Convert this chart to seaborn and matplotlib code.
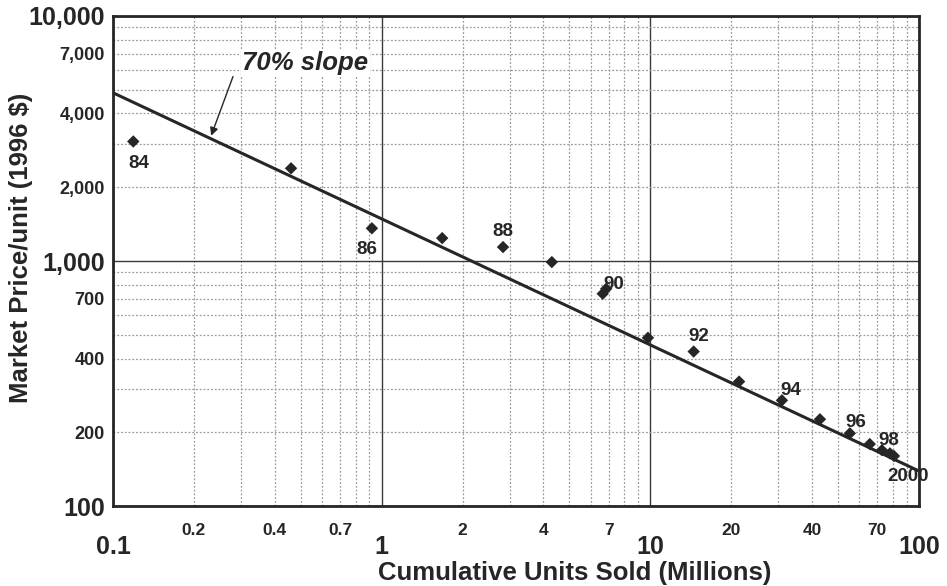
import numpy as np
import pandas as pd
import seaborn as sns
import matplotlib.pyplot as plt
from matplotlib.ticker import FixedLocator, FuncFormatter

# data (cumulative units in millions, price in 1996 $)
years = ["84", "85", "86", "87", "88", "89", "90", "90b", "91", "92", "93", "94",
         "95", "96", "97", "98", "99", "2000"]
units = [0.119, 0.46, 0.92, 1.68, 2.83, 4.30, 6.65, 6.85, 9.8, 14.5, 21.4, 30.9,
         42.8, 55.3, 65.6, 72.8, 78.0, 80.7]
price = [3075, 2390, 1360, 1240, 1140, 990, 735, 770, 486, 427, 322, 270,
         226, 198, 179, 169, 164, 160]

# 70% learning curve reference
curve_start_units = 0.1
curve_start_price = 4860
progress_ratio = 0.70
curve_units = [0.1, 100]

# which points get a year label and where (offset in points)
label_offsets = {
    "84": (4, -16), "86": (-4, -15), "88": (0, 11), "90": (8, 7),
    "92": (4, 11), "94": (6, 7), "96": (4, 8), "98": (5, 7), "2000": (10, -15),
}

x_major = [0.1, 1, 10, 100]
x_minor_labels = [0.2, 0.4, 0.7, 2, 4, 7, 20, 40, 70]
y_major = [100, 1000, 10000]
y_minor_labels = [200, 400, 700, 2000, 4000, 7000]

df = pd.DataFrame({"year": years, "units": units, "price": price})
b = np.log2(progress_ratio)
curve = pd.DataFrame({"units": curve_units})
curve["price"] = curve_start_price * (curve["units"] / curve_start_units) ** b

sns.set_style("white")
plt.rcParams["font.family"] = ["Liberation Sans", "DejaVu Sans"]
plt.rcParams["font.weight"] = "bold"

fig = plt.figure(figsize=(9.47, 5.86), dpi=100)
ax = fig.add_axes([0.1193, 0.1365, 0.8511, 0.8362])

ink = "#262626"
sns.lineplot(data=curve, x="units", y="price", color=ink, lw=2.2, ax=ax)
sns.scatterplot(data=df, x="units", y="price", marker="D", color=ink, s=40,
                edgecolor="none", ax=ax, zorder=5)

ax.set_xscale("log")
ax.set_yscale("log")
ax.set_xlim(0.1, 100)
ax.set_ylim(100, 10000)

# grids
minor_x = [m * d for d in [0.1, 1, 10] for m in range(2, 10)]
minor_y = [m * d for d in [100, 1000] for m in range(2, 10)]
ax.xaxis.set_major_locator(FixedLocator(x_major))
ax.xaxis.set_minor_locator(FixedLocator(minor_x))
ax.yaxis.set_major_locator(FixedLocator(y_major))
ax.yaxis.set_minor_locator(FixedLocator(minor_y))

def fmt_num(v):
    if v < 1:
        return f"{v:.1f}"
    return f"{v:,.0f}"

ax.xaxis.set_major_formatter(FuncFormatter(lambda v, p: fmt_num(v)))
ax.yaxis.set_major_formatter(FuncFormatter(lambda v, p: fmt_num(v)))
ax.xaxis.set_minor_formatter(FuncFormatter(
    lambda v, p: fmt_num(v) if any(np.isclose(v, t) for t in x_minor_labels) else ""))
ax.yaxis.set_minor_formatter(FuncFormatter(
    lambda v, p: fmt_num(v) if any(np.isclose(v, t) for t in y_minor_labels) else ""))

ax.tick_params(axis="x", which="major", length=0, pad=21, labelsize=18, colors=ink)
ax.tick_params(axis="x", which="minor", length=0, pad=12, labelsize=12.5, colors=ink)
ax.tick_params(axis="y", which="major", length=0, pad=6, labelsize=18, colors=ink)
ax.tick_params(axis="y", which="minor", length=0, pad=6, labelsize=13, colors=ink)

ax.grid(True, which="major", color="#3a3a3a", lw=1.0, ls="-")
ax.grid(True, which="minor", color="#9a9a9a", lw=0.9, ls=(0, (1.5, 1.5)))
ax.set_axisbelow(True)
for s in ax.spines.values():
    s.set_color(ink)
    s.set_linewidth(2)

ax.set_xlabel("Cumulative Units Sold (Millions)", fontsize=18.5, fontweight="bold",
              color=ink)
ax.xaxis.set_label_coords(0.573, -0.112)
ax.set_ylabel("Market Price/unit (1996 $)", fontsize=18.5, fontweight="bold",
              color=ink)
ax.yaxis.set_label_coords(-0.099, 0.527)

for _, r in df.iterrows():
    if r["year"] in label_offsets:
        ax.annotate(r["year"], (r["units"], r["price"]), xytext=label_offsets[r["year"]],
                    textcoords="offset points", ha="center", va="center",
                    fontsize=13.5, fontweight="bold", color=ink, zorder=6)

# 70% slope callout
head_x = 0.23
head_y = curve_start_price * (head_x / curve_start_units) ** b
ax.annotate("", xy=(head_x, head_y), xytext=(0.282, 5800),
            arrowprops=dict(arrowstyle="-|>", color=ink, lw=1, mutation_scale=12))
ax.text(0.52, 6400, "70% slope", ha="center", va="center", fontsize=18.5,
        fontweight="bold", fontstyle="italic", color=ink,
        bbox=dict(facecolor="white", edgecolor="none", pad=1))

fig.savefig("out.png", dpi=100)
